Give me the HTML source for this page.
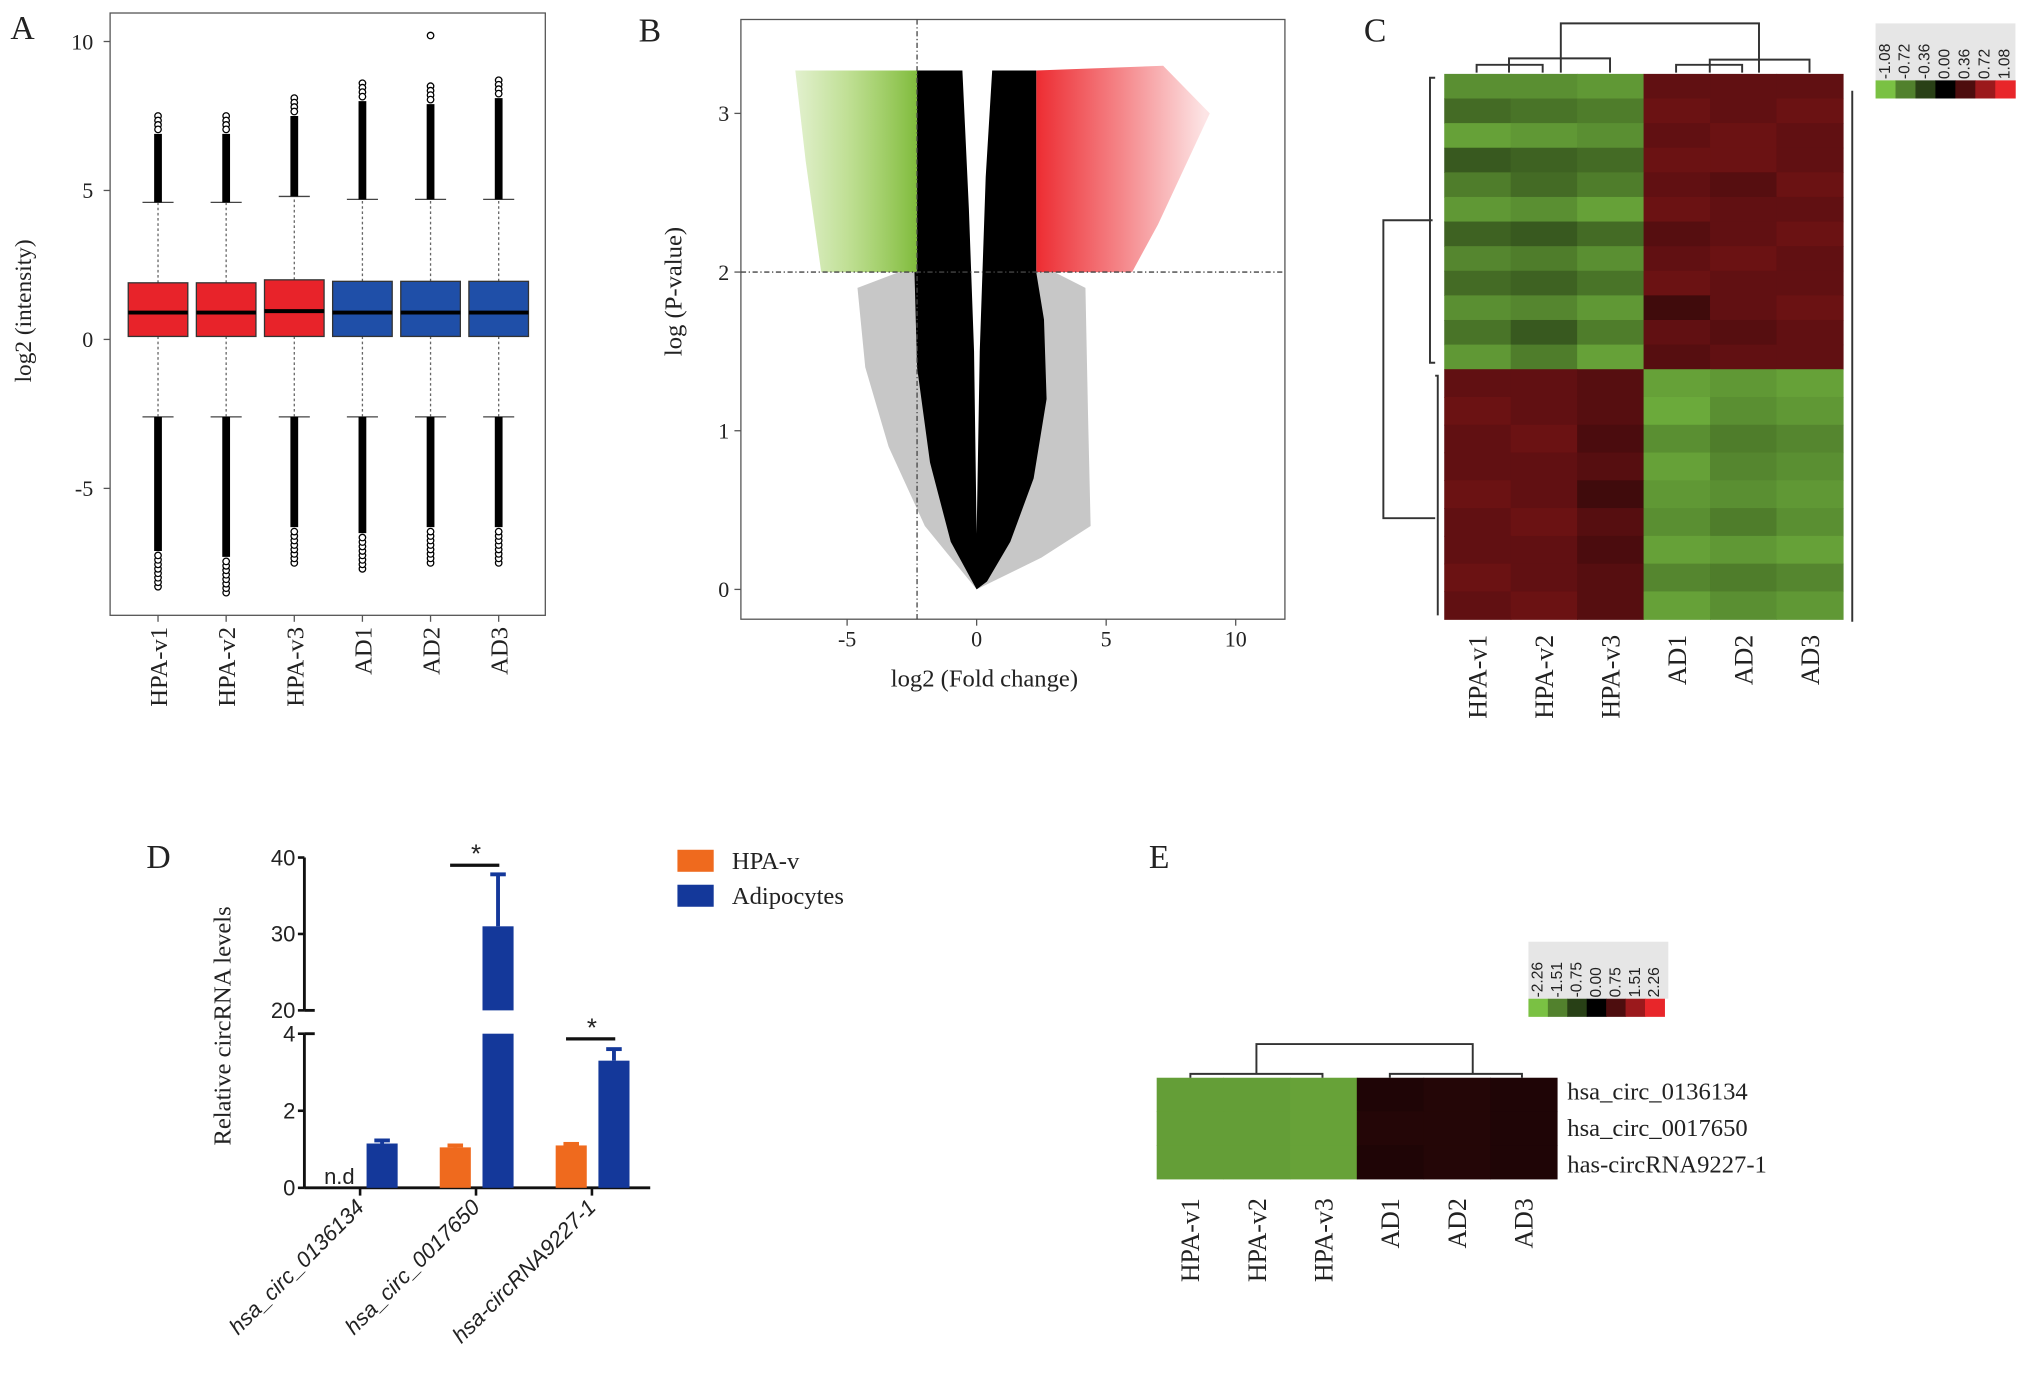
<!DOCTYPE html>
<html><head><meta charset="utf-8"><style>
html,body{margin:0;padding:0;background:#fff;}
svg{display:block;}
text{font-family:"Liberation Serif",serif;fill:#222;}
.sans{font-family:"Liberation Sans",sans-serif;}
</style></head><body>
<svg id="fig" width="2031" height="1377" viewBox="0 0 1568 1063" xmlns="http://www.w3.org/2000/svg">
<defs>
<linearGradient id="gGreen" gradientUnits="userSpaceOnUse" x1="600" y1="0" x2="708" y2="0">
<stop offset="0" stop-color="#8dc63f" stop-opacity="0.15"/><stop offset="0.5" stop-color="#8dc63f" stop-opacity="0.55"/><stop offset="1" stop-color="#7ab833" stop-opacity="0.95"/></linearGradient>
<linearGradient id="gRed" gradientUnits="userSpaceOnUse" x1="800" y1="0" x2="930" y2="0">
<stop offset="0" stop-color="#ec2127" stop-opacity="0.95"/><stop offset="0.5" stop-color="#ec2127" stop-opacity="0.55"/><stop offset="1" stop-color="#ec2127" stop-opacity="0.12"/></linearGradient>
</defs>
</svg>
<script>
// ---------- Panel A data ----------
const aSamples=["HPA-v1","HPA-v2","HPA-v3","AD1","AD2","AD3"];
const aQ1=[0.1,0.1,0.1,0.1,0.1,0.1];
const aMed=[0.9,0.9,0.95,0.9,0.9,0.9];
const aQ3=[1.9,1.9,2.0,1.95,1.95,1.95];
const aWhiskLo=[-2.6,-2.6,-2.6,-2.6,-2.6,-2.6];
const aWhiskHi=[4.6,4.6,4.8,4.7,4.7,4.7];
const aOutMax=[7.5,7.5,8.1,8.6,8.5,8.7];
const aOutMin=[-8.3,-8.5,-7.5,-7.7,-7.5,-7.5];
const aTicks=[10,5,0,-5];
// ---------- Panel B data ----------
const bXTicks=[-5,0,5,10];
const bYTicks=[0,1,2,3];
const bCore=[[0,0],[-1,0.3],[-1.8,0.8],[-2.3,1.4],[-2.4,2],[-2.3,2],[-2.3,3.27],[2.3,3.27],[2.3,2],[2.6,1.7],[2.7,1.2],[2.2,0.7],[1.3,0.3],[0.4,0.05]];
const bGap=[[0,0.35],[-0.1,1.5],[-0.3,2.4],[-0.55,3.27],[0.6,3.27],[0.35,2.6],[0.12,1.5]];
const bHalo=[[0,0],[-2,0.4],[-3.4,0.9],[-4.3,1.4],[-4.6,1.9],[-3,2],[0,2],[3,2],[4.2,1.9],[4.3,1.1],[4.4,0.4],[2.5,0.2]];
const bGreen=[[-2.3,2],[-2.3,3.27],[-7,3.27],[-6.6,2.7],[-6,2.0]];
const bRed=[[2.3,2],[2.3,3.27],[7.2,3.3],[9,3.0],[7,2.3],[6,2.0]];
const bThreshX=-2.3, bThreshY=2;
// ---------- Panel C data ----------
const cCols=["HPA-v1","HPA-v2","HPA-v3","AD1","AD2","AD3"];
const cTop=[
[-0.8,-0.8,-0.85,0.45,0.45,0.45],[-0.6,-0.65,-0.7,0.5,0.45,0.5],[-0.9,-0.85,-0.8,0.45,0.5,0.45],
[-0.5,-0.55,-0.6,0.5,0.5,0.45],[-0.7,-0.6,-0.7,0.45,0.4,0.5],[-0.85,-0.8,-0.9,0.5,0.45,0.45],
[-0.55,-0.5,-0.6,0.4,0.45,0.5],[-0.75,-0.7,-0.8,0.45,0.5,0.45],[-0.6,-0.55,-0.65,0.5,0.45,0.45],
[-0.8,-0.75,-0.85,0.3,0.45,0.5],[-0.65,-0.5,-0.7,0.45,0.4,0.45],[-0.85,-0.7,-0.9,0.4,0.45,0.45]];
const cBottom=[
[0.45,0.45,0.4,-0.9,-0.85,-0.9],[0.5,0.45,0.4,-0.95,-0.8,-0.85],[0.45,0.5,0.35,-0.8,-0.7,-0.75],
[0.45,0.45,0.4,-0.9,-0.75,-0.8],[0.5,0.45,0.3,-0.85,-0.8,-0.85],[0.45,0.5,0.4,-0.8,-0.7,-0.8],
[0.45,0.45,0.35,-0.9,-0.85,-0.9],[0.5,0.45,0.4,-0.75,-0.7,-0.75],[0.45,0.5,0.4,-0.9,-0.8,-0.85]];
const cLegendVals=["-1.08","-0.72","-0.36","0.00","0.36","0.72","1.08"];
// ---------- Panel D data ----------
const dCats=["hsa_circ_0136134","hsa_circ_0017650","hsa-circRNA9227-1"];
const dHpa=[null,1.05,1.1];
const dHpaErr=[0,0.05,0.04];
const dAd=[1.15,31,3.3];
const dAdErr=[0.08,6.8,0.3];
const dTicksLow=[0,2,4];
const dTicksHigh=[20,30,40];
// ---------- Panel E data ----------
const eCols=["HPA-v1","HPA-v2","HPA-v3","AD1","AD2","AD3"];
const eRows=["hsa_circ_0136134","hsa_circ_0017650","has-circRNA9227-1"];
const eVals=[[-1.85,-1.85,-1.9,0.3,0.35,0.3],[-1.85,-1.85,-1.9,0.35,0.35,0.3],[-1.85,-1.85,-1.9,0.3,0.35,0.3]];
const eLegendVals=["-2.26","-1.51","-0.75","0.00","0.75","1.51","2.26"];

const NS="http://www.w3.org/2000/svg";
const svg=document.getElementById('fig');
function mk(tag,attrs,parent){const e=document.createElementNS(NS,tag);for(const k in attrs)e.setAttribute(k,attrs[k]);(parent||svg).appendChild(e);return e;}
function txt(s,attrs,parent){const e=mk('text',attrs,parent);e.textContent=s;return e;}
function heatColor(v,max){
  const t=Math.max(-1,Math.min(1,v/max));
  if(t<0){const a=-t;return `rgb(${Math.round(0+a*122)},${Math.round(0+a*193)},${Math.round(0+a*67)})`;}
  return `rgb(${Math.round(t*232)},${Math.round(t*38)},${Math.round(t*42)})`;
}
function pts(arr,fx,fy){return arr.map(p=>fx(p[0])+','+fy(p[1])).join(' ');}

// ===== Panel A =====
const gA=mk('g',{});


const yA=v=>262-23*v;
const xA=i=>122+i*52.6;
let t=txt('A',{x:8,y:30,'font-size':26},gA);

mk('rect',{x:85,y:10,width:336,height:465,fill:'none',stroke:'#555','stroke-width':1},gA);
aTicks.forEach(v=>{
  mk('line',{x1:80,x2:85,y1:yA(v),y2:yA(v),stroke:'#555'},gA);
  const tt=txt(String(v),{x:72,y:yA(v)+6,'font-size':17,'text-anchor':'end'},gA);
  
});
t=txt('log2 (intensity)',{x:24,y:240,'font-size':18,'text-anchor':'middle',transform:'rotate(-90 24 240)'},gA);

aSamples.forEach((s,i)=>{
  const cx=xA(i), col=i<3?'#e8232a':'#1f4fa8';
  mk('line',{x1:cx,x2:cx,y1:yA(aQ3[i]),y2:yA(aWhiskHi[i]),stroke:'#666','stroke-dasharray':'2,2'},gA);
  mk('line',{x1:cx,x2:cx,y1:yA(aQ1[i]),y2:yA(aWhiskLo[i]),stroke:'#666','stroke-dasharray':'2,2'},gA);
  mk('line',{x1:cx-12,x2:cx+12,y1:yA(aWhiskHi[i]),y2:yA(aWhiskHi[i]),stroke:'#444'},gA);
  mk('line',{x1:cx-12,x2:cx+12,y1:yA(aWhiskLo[i]),y2:yA(aWhiskLo[i]),stroke:'#444'},gA);
  mk('line',{x1:cx,x2:cx,y1:yA(aWhiskHi[i]),y2:yA(aOutMax[i]-0.6),stroke:'#000','stroke-width':6},gA);
  mk('line',{x1:cx,x2:cx,y1:yA(aWhiskLo[i]),y2:yA(aOutMin[i]+1.2),stroke:'#000','stroke-width':6},gA);
  for(let k=0;k<4;k++){
    mk('circle',{cx:cx,cy:yA(aOutMax[i]-k*0.15),r:2.5,fill:'#fff',stroke:'#000','stroke-width':1},gA);
  }
  for(let k=0;k<8;k++){
    mk('circle',{cx:cx,cy:yA(aOutMin[i]+k*0.15),r:2.5,fill:'#fff',stroke:'#000','stroke-width':1},gA);
  }
  const b=mk('rect',{x:cx-23,y:yA(aQ3[i]),width:46,height:yA(aQ1[i])-yA(aQ3[i]),fill:col,stroke:'#333','stroke-width':1},gA);
  
  mk('line',{x1:cx-23,x2:cx+23,y1:yA(aMed[i]),y2:yA(aMed[i]),stroke:'#000','stroke-width':3},gA);
  mk('line',{x1:cx,x2:cx,y1:475,y2:480,stroke:'#555'},gA);
  const l=txt(s,{x:cx+7,y:484,'font-size':19,'text-anchor':'end',transform:`rotate(-90 ${cx+7} 484)`},gA);
  
});
mk('circle',{cx:xA(4),cy:yA(10.2),r:2.5,fill:'#fff',stroke:'#000'},gA);

// ===== Panel B =====
const gB=mk('g',{});


const xB=v=>754+20*v, yB=v=>455-122.5*v;
t=txt('B',{x:493,y:32,'font-size':26},gB);

mk('rect',{x:572,y:15,width:420,height:463,fill:'none',stroke:'#555'},gB);
const halo=mk('polygon',{points:pts(bHalo,xB,yB),fill:'#000','fill-opacity':0.22},gB);

const gr=mk('polygon',{points:pts(bGreen,xB,yB),fill:'url(#gGreen)'},gB);

const rd=mk('polygon',{points:pts(bRed,xB,yB),fill:'url(#gRed)'},gB);

const core=mk('polygon',{points:pts(bCore,xB,yB),fill:'#000'},gB);

const gap=mk('polygon',{points:pts(bGap,xB,yB),fill:'#fff'},gB);

mk('line',{x1:xB(bThreshX),x2:xB(bThreshX),y1:15,y2:478,stroke:'#444','stroke-dasharray':'4,2,1,2'},gB);
mk('line',{x1:572,x2:992,y1:yB(bThreshY),y2:yB(bThreshY),stroke:'#444','stroke-dasharray':'4,2,1,2'},gB);
bXTicks.forEach(v=>{
  mk('line',{x1:xB(v),x2:xB(v),y1:478,y2:483,stroke:'#555'},gB);
  const tt=txt(String(v),{x:xB(v),y:499,'font-size':17,'text-anchor':'middle'},gB);
  
});
bYTicks.forEach(v=>{
  mk('line',{x1:567,x2:572,y1:yB(v),y2:yB(v),stroke:'#555'},gB);
  const tt=txt(String(v),{x:563,y:yB(v)+6,'font-size':17,'text-anchor':'end'},gB);
  
});
t=txt('log2 (Fold change)',{x:760,y:530,'font-size':19,'text-anchor':'middle'},gB);

t=txt('log (P-value)',{x:526,y:225,'font-size':19,'text-anchor':'middle',transform:'rotate(-90 526 225)'},gB);


// ===== Panel C =====
const gC=mk('g',{});


t=txt('C',{x:1053,y:32,'font-size':26},gC);

const cX0=1115,cW=51.3,cTopY=57,cMid=285,cBot=478;
const thT=(cMid-cTopY)/cTop.length, thB=(cBot-cMid)/cBottom.length;
cTop.forEach((row,r)=>row.forEach((v,c)=>{
  const e=mk('rect',{x:cX0+c*cW,y:cTopY+r*thT,width:cW+0.5,height:thT+0.5,fill:heatColor(v,1.08)},gC);
  
}));
cBottom.forEach((row,r)=>row.forEach((v,c)=>{
  const e=mk('rect',{x:cX0+c*cW,y:cMid+r*thB,width:cW+0.5,height:thB+0.5,fill:heatColor(v,1.08)},gC);
  
}));
cCols.forEach((s,i)=>{
  const cx=cX0+cW*(i+0.5)+7;
  const l=txt(s,{x:cx,y:490,'font-size':20,'text-anchor':'end',transform:`rotate(-90 ${cx} 490)`},gC);
  
});
const dg='#333';
[[1140,1191,50],[1165,1243,45],[1294,1345,50],[1320,1397,46],[1205,1358,18]].forEach(d=>{
  mk('path',{d:`M${d[0]} 56 V${d[2]} H${d[1]} V56`,fill:'none',stroke:dg,'stroke-width':1.5},gC);
});
mk('path',{d:'M1108 60 H1104 V280 H1108 M1106 170 H1068 V400 H1108',fill:'none',stroke:dg,'stroke-width':1.5},gC);
mk('path',{d:'M1108 290 H1110 V475',fill:'none',stroke:dg,'stroke-width':1.5},gC);
mk('line',{x1:1430,x2:1430,y1:70,y2:480,stroke:'#333','stroke-width':1.5},gC);
const gCl=mk('g',{},gC);

mk('rect',{x:1448,y:18,width:108,height:44,fill:'#e6e6e6'},gCl);
for(let i=0;i<7;i++){
  mk('rect',{x:1448+i*15.4,y:62,width:15.8,height:14,fill:heatColor(parseFloat(cLegendVals[i]),1.08)},gCl);
  const lx=1448+i*15.4+11;
  const l=txt(cLegendVals[i],{x:lx,y:61,'font-size':12,class:'sans','text-anchor':'start',transform:`rotate(-90 ${lx} 61)`},gCl);
  
}

// ===== Panel D =====
const gD=mk('g',{});


t=txt('D',{x:113,y:670,'font-size':26},gD);

const yD=v=>v<=4?917-v*29.75:780-(v-20)*5.9;
const xD=i=>278+i*89.5;
const axX=235;
mk('line',{x1:axX,x2:axX,y1:yD(0),y2:yD(4),stroke:'#111','stroke-width':2.2},gD);
mk('line',{x1:axX,x2:axX,y1:yD(20),y2:yD(40),stroke:'#111','stroke-width':2.2},gD);
mk('line',{x1:axX,x2:502,y1:917,y2:917,stroke:'#111','stroke-width':2.2},gD);
mk('line',{x1:axX,x2:243,y1:yD(4),y2:yD(4),stroke:'#111','stroke-width':2.2},gD);
mk('line',{x1:axX,x2:243,y1:yD(20),y2:yD(20),stroke:'#111','stroke-width':2.2},gD);
dTicksLow.concat(dTicksHigh).forEach(v=>{
  mk('line',{x1:axX-5,x2:axX,y1:yD(v),y2:yD(v),stroke:'#111','stroke-width':2},gD);
  const tt=txt(String(v),{x:axX-7,y:yD(v)+6,'font-size':17,class:'sans','text-anchor':'end'},gD);
  
});
t=txt('Relative circRNA levels',{x:178,y:792,'font-size':19,'text-anchor':'middle',transform:'rotate(-90 178 792)'},gD);

function bar(cx,v,err,col,name){
  const w=24;
  if(v>4){
    const b1=mk('rect',{x:cx-w/2,y:yD(4),width:w,height:yD(0)-yD(4),fill:col},gD);
    
    const b2=mk('rect',{x:cx-w/2,y:yD(v),width:w,height:yD(20)-yD(v),fill:col},gD);
    
  } else {
    const b=mk('rect',{x:cx-w/2,y:yD(v),width:w,height:yD(0)-yD(v),fill:col},gD);
    
  }
  mk('line',{x1:cx,x2:cx,y1:yD(v),y2:yD(v+err),stroke:col,'stroke-width':3},gD);
  mk('line',{x1:cx-6,x2:cx+6,y1:yD(v+err),y2:yD(v+err),stroke:col,'stroke-width':3},gD);
}
dCats.forEach((c,i)=>{
  const tx=xD(i);
  if(dHpa[i]!==null) bar(tx-16,dHpa[i],dHpaErr[i],'#ef6a1e','d-bar-hpa-'+i);
  bar(tx+17,dAd[i],dAdErr[i],'#14389a','d-bar-adipocytes-'+i);
  mk('line',{x1:tx,x2:tx,y1:917,y2:923,stroke:'#111','stroke-width':2},gD);
  const l=txt(c,{x:tx+4,y:933,'font-size':17,class:'sans','font-style':'italic','text-anchor':'end',transform:`rotate(-45 ${tx+4} 933)`},gD);
  
});
t=txt('n.d',{x:262,y:914,'font-size':17,class:'sans','text-anchor':'middle'},gD);

[[1,668],[2,802]].forEach(s=>{
  const tx=xD(s[0]);
  mk('line',{x1:tx-20,x2:tx+18,y1:s[1],y2:s[1],stroke:'#111','stroke-width':2.5},gD);
  const st=txt('*',{x:tx,y:s[1]-2,'font-size':20,class:'sans','text-anchor':'middle'},gD);
  
});
const gL=mk('g',{},gD);

mk('rect',{x:523,y:656,width:28,height:17,fill:'#ef6a1e'},gL);
mk('rect',{x:523,y:683,width:28,height:17,fill:'#14389a'},gL);
t=txt('HPA-v',{x:565,y:671,'font-size':19},gL);

t=txt('Adipocytes',{x:565,y:698,'font-size':19},gL);


// ===== Panel E =====
const gE=mk('g',{});


t=txt('E',{x:887,y:670,'font-size':26},gE);

const eX0=893,eW=51.5,eY0=832,eH=26;
eVals.forEach((row,r)=>row.forEach((v,c)=>{
  const e=mk('rect',{x:eX0+c*eW,y:eY0+r*eH,width:eW+0.5,height:eH+0.5,fill:heatColor(v,2.26)},gE);
  
}));
eRows.forEach((s,r)=>{
  const l=txt(s,{x:1210,y:849+r*28,'font-size':19},gE);
  
});
eCols.forEach((s,i)=>{
  const cx=eX0+eW*(i+0.5)+7;
  const l=txt(s,{x:cx,y:925,'font-size':20,'text-anchor':'end',transform:`rotate(-90 ${cx} 925)`},gE);
  
});
mk('path',{d:'M919 832 V829 H1021 V832 M970 829 V806 H1137 V829 M1073 832 V829 H1175 V832 M1124 829 H1150',fill:'none',stroke:'#333','stroke-width':1.5},gE);
const gEl=mk('g',{},gE);

mk('rect',{x:1180,y:727,width:108,height:44,fill:'#e6e6e6'},gEl);
for(let i=0;i<7;i++){
  mk('rect',{x:1180+i*15,y:771,width:15.4,height:14,fill:heatColor(parseFloat(eLegendVals[i]),2.26)},gEl);
  const lx=1180+i*15+11;
  const l=txt(eLegendVals[i],{x:lx,y:770,'font-size':12,class:'sans',transform:`rotate(-90 ${lx} 770)`},gEl);
  
}
</script>
</body></html>
